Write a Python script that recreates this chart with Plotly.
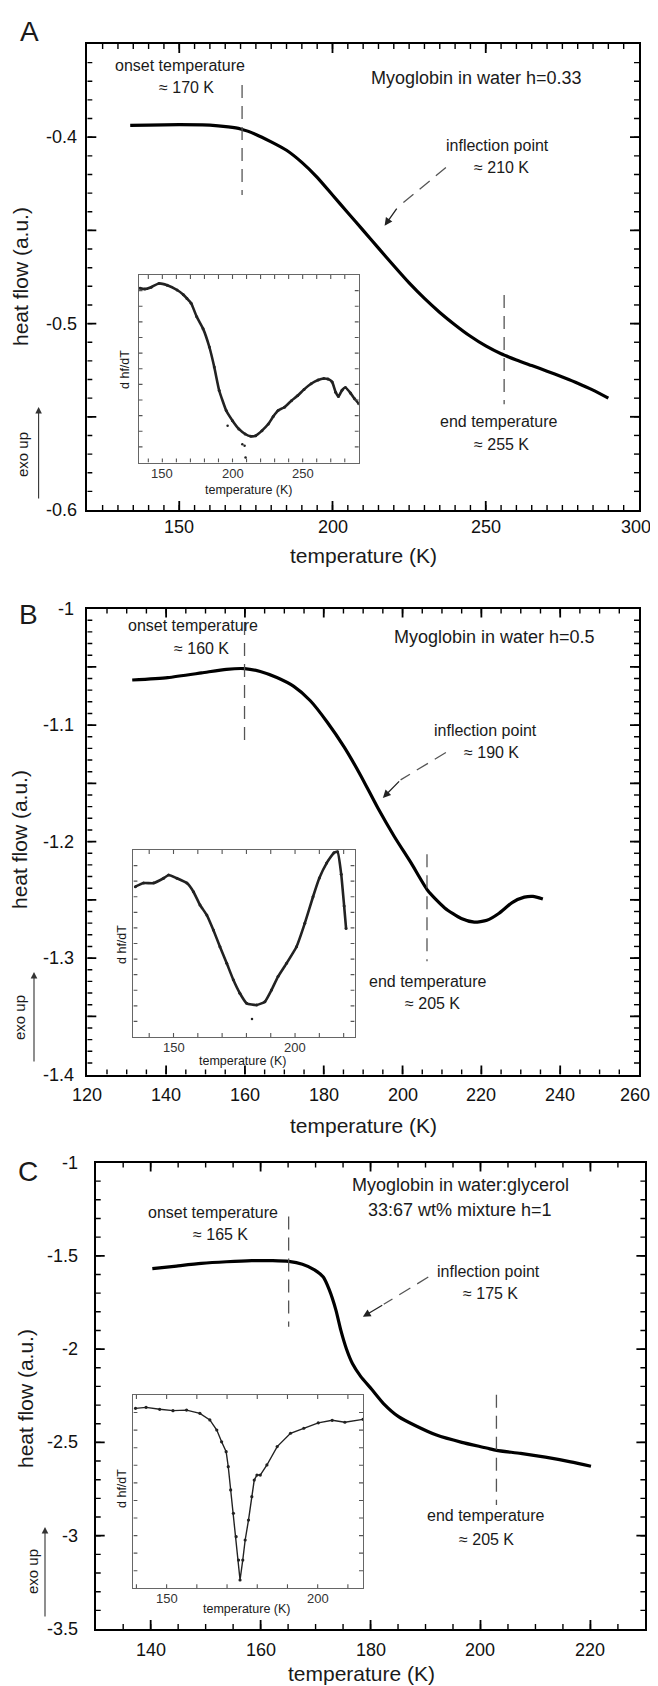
import plotly.graph_objects as go

W, H = 658, 1686
OFF = 8  # the page places the figure 8 px in from the top-left corner
FONT = "Liberation Sans, Arial, Helvetica, sans-serif"

# ---------------- data: main DSC curves ----------------
a_temp = [134, 140, 150, 160, 166, 170, 175, 180, 185, 190, 195, 200, 205, 210, 215,
          220, 225, 230, 235, 240, 245, 250, 255, 260, 265, 270, 275, 280, 285, 290]
a_heat = [-0.3937, -0.3935, -0.3933, -0.3935, -0.3945, -0.3956, -0.3985, -0.4025, -0.4070, -0.4135,
          -0.4215, -0.4310, -0.4405, -0.4500, -0.4595, -0.4690, -0.4782, -0.4865, -0.4940, -0.5007,
          -0.5068, -0.5120, -0.5162, -0.5195, -0.5225, -0.5255, -0.5287, -0.5320, -0.5357, -0.5400]

b_temp = [131.4, 140.4, 149.0, 155.3, 159.9, 163.9, 168.1, 172.4, 176.6, 180.9, 185.2, 189.4, 193.7,
          197.9, 202.2, 206.4, 210.7, 214.9, 218.2, 221.4, 224.5, 227.8, 230.9, 233.1, 235.6]
b_heat = [-1.0613, -1.0592, -1.0552, -1.0521, -1.0515, -1.0540, -1.0592, -1.0668, -1.0791, -1.0975,
          -1.1189, -1.1434, -1.1710, -1.1956, -1.2185, -1.2420, -1.2569, -1.2660, -1.2691, -1.2676,
          -1.2615, -1.2523, -1.2477, -1.2470, -1.2492]

c_temp = [140.3, 144.7, 149.2, 153.8, 158.4, 162.2, 165.1, 167.6, 169.8, 171.4, 172.5, 173.7, 174.6,
          175.6, 176.7, 178.2, 180.2, 182.4, 185.1, 188.2, 192.0, 196.6, 201.1, 202.9, 207.3, 211.8,
          216.4, 220.1]
c_heat = [-1.569, -1.555, -1.541, -1.532, -1.526, -1.526, -1.530, -1.545, -1.575, -1.614, -1.683,
          -1.791, -1.900, -1.998, -2.077, -2.146, -2.215, -2.293, -2.362, -2.411, -2.461, -2.500,
          -2.530, -2.543, -2.559, -2.579, -2.604, -2.628]

# ---------------- data: insets (d hf/dT, arbitrary units 0..1) ----------------
ia_temp = [134, 137.5, 142, 147.5, 153.5, 160.5, 165, 167.5, 170.5, 174.5, 179, 183.5, 187, 190.5,
           195.5, 200, 204.5, 209, 213, 216.5, 221, 225.5, 229, 232.5, 237, 242, 246.5, 251, 256,
           261, 265, 268, 271, 273.5, 275.5, 278, 280.5, 284, 287, 290]
ia_dhf = [0.93, 0.925, 0.935, 0.955, 0.945, 0.92, 0.895, 0.875, 0.85, 0.777, 0.714, 0.616, 0.509,
          0.384, 0.277, 0.223, 0.179, 0.152, 0.14, 0.143, 0.17, 0.205, 0.245, 0.277, 0.295, 0.33,
          0.357, 0.39, 0.42, 0.44, 0.448, 0.445, 0.43, 0.375, 0.352, 0.385, 0.4, 0.371, 0.34, 0.314]
ia_out_temp = [196.5, 207, 208.6, 209.3]
ia_out_dhf = [0.196, 0.098, 0.089, 0.027]

ib_temp = [134.3, 137.7, 141.8, 145.9, 148, 151.4, 155.5, 158.2, 160.9, 163.7, 166.4, 169.1, 171.9,
           174.6, 177.3, 180.1, 184.2, 187.6, 190.3, 193, 196.5, 200.6, 204, 207.4, 210, 213, 216,
           217.5, 219, 220.2, 221]
ib_dhf = [0.804, 0.823, 0.823, 0.849, 0.866, 0.849, 0.823, 0.777, 0.706, 0.652, 0.572, 0.483, 0.394,
          0.306, 0.234, 0.18, 0.171, 0.189, 0.251, 0.323, 0.394, 0.483, 0.608, 0.75, 0.85, 0.93,
          0.985, 0.99, 0.87, 0.7, 0.58]
ib_out_temp = [182.3]
ib_out_dhf = [0.096]

ic_temp = [139.7, 143.2, 147.7, 152.1, 156.6, 161, 164.3, 166.6, 168.2, 169.7, 170.4, 171.2, 172.1,
           173, 173.8, 174.3, 175.2, 176, 177.1, 178.2, 179, 179.9, 181, 183.2, 186.6, 191, 195.4,
           200.2, 204.8, 209, 215]
ic_dhf = [0.931, 0.936, 0.926, 0.919, 0.922, 0.905, 0.871, 0.819, 0.758, 0.707, 0.629, 0.509, 0.388,
          0.267, 0.146, 0.043, 0.146, 0.25, 0.353, 0.474, 0.56, 0.586, 0.586, 0.638, 0.733, 0.802,
          0.828, 0.856, 0.869, 0.859, 0.874]

# ---------------- tick labels ----------------
a_xlabels = [150, 200, 250, 300]
a_ylabels = [-0.6, -0.5, -0.4]
a_ytext = ["-0.6", "-0.5", "-0.4"]
b_xlabels = [120, 140, 160, 180, 200, 220, 240, 260]
b_ylabels = [-1.4, -1.3, -1.2, -1.1, -1.0]
b_ytext = ["-1.4", "-1.3", "-1.2", "-1.1", "-1"]
c_xlabels = [140, 160, 180, 200, 220]
c_ylabels = [-3.5, -3.0, -2.5, -2.0, -1.5, -1.0]
c_ytext = ["-3.5", "-3", "-2.5", "-2", "-1.5", "-1"]
inset_labels = [150, 200, 250]


def steps(lo, hi, step):
    n = int(round((hi - lo) / step))
    return [round(lo + i * step, 6) for i in range(n + 1)]


def px(x):
    return (x - OFF) / W


def py(y):
    return 1 - (y - OFF) / H


# frame geometry: axis ids, pixel box (left, right, top, bottom), data ranges
FRAMES = {
    "A": ("x", "y", (87.3, 639, 44, 510), [120, 300], [-0.6, -0.35]),
    "B": ("x2", "y2", (87.3, 639, 608.6, 1074.6), [120, 260], [-1.4, -1.0]),
    "C": ("x3", "y3", (95.7, 645.4, 1162.5, 1629), [130, 230], [-3.5, -1.0]),
    "iA": ("x4", "y4", (138.5, 358.8, 275, 462.5), [133, 290], [0, 1]),
    "iB": ("x5", "y5", (133.4, 354.6, 850, 1037), [133.5, 224.5], [0, 1]),
    "iC": ("x6", "y6", (133.4, 363, 1395, 1588.3), [139, 215], [0, 1]),
}


def frame_axes(key, color="black", lw=1.6):
    xa, ya, (l, r, t, b), xr, yr = FRAMES[key]
    common = dict(showline=True, linecolor=color, linewidth=lw, mirror=True, ticks="",
                  showticklabels=False, showgrid=False, zeroline=False, fixedrange=True)
    xd = dict(domain=[px(l), px(r)], range=xr, anchor=ya, **common)
    yd = dict(domain=[py(b), py(t)], range=yr, anchor=xa, **common)
    return xd, yd


fig = go.Figure()
curve = dict(color="black", width=3.2, shape="spline", smoothing=0.6)
fig.add_trace(go.Scatter(x=a_temp, y=a_heat, xaxis="x", yaxis="y", mode="lines", line=curve))
fig.add_trace(go.Scatter(x=b_temp, y=b_heat, xaxis="x2", yaxis="y2", mode="lines", line=curve))
fig.add_trace(go.Scatter(x=c_temp, y=c_heat, xaxis="x3", yaxis="y3", mode="lines", line=curve))

ins_line = dict(color="#222", width=2.6, shape="spline", smoothing=0.4)
ins_mark = dict(color="#222", size=3)
fig.add_trace(go.Scatter(x=ia_temp, y=ia_dhf, xaxis="x4", yaxis="y4", mode="lines+markers",
                         line=ins_line, marker=ins_mark))
fig.add_trace(go.Scatter(x=ia_out_temp, y=ia_out_dhf, xaxis="x4", yaxis="y4", mode="markers",
                         marker=dict(color="#222", size=2.5)))
fig.add_trace(go.Scatter(x=ib_temp, y=ib_dhf, xaxis="x5", yaxis="y5", mode="lines+markers",
                         line=ins_line, marker=ins_mark))
fig.add_trace(go.Scatter(x=ib_out_temp, y=ib_out_dhf, xaxis="x5", yaxis="y5", mode="markers",
                         marker=dict(color="#222", size=2.5)))
fig.add_trace(go.Scatter(x=ic_temp, y=ic_dhf, xaxis="x6", yaxis="y6", mode="lines+markers",
                         line=dict(color="#222", width=1.4), marker=dict(color="#222", size=3.2)))

# ---------------- shapes ----------------
shapes = []


def frame_ticks(key, xvals, yvals, length, width, color="black"):
    """Inward ticks on all four sides of a frame; length given in pixels."""
    xa, ya, (l, r, t, b), xr, yr = FRAMES[key]
    dx = length * (xr[1] - xr[0]) / (r - l)      # pixel length in x data units
    dy = length * (yr[1] - yr[0]) / (b - t)      # pixel length in y data units
    ln = dict(color=color, width=width)
    for v in xvals:
        shapes.append(dict(type="line", xref=xa, yref=ya, x0=v, x1=v, y0=yr[0], y1=yr[0] + dy,
                           line=ln))
        shapes.append(dict(type="line", xref=xa, yref=ya, x0=v, x1=v, y0=yr[1], y1=yr[1] - dy,
                           line=ln))
    for v in yvals:
        shapes.append(dict(type="line", xref=xa, yref=ya, y0=v, y1=v, x0=xr[0], x1=xr[0] + dx,
                           line=ln))
        shapes.append(dict(type="line", xref=xa, yref=ya, y0=v, y1=v, x0=xr[1], x1=xr[1] - dx,
                           line=ln))


# main frames: long and short ticks
frame_ticks("A", [150, 200, 250], steps(-0.55, -0.4, 0.05), 9, 1.8)
frame_ticks("A", steps(125, 295, 5), steps(-0.59, -0.36, 0.01), 5, 1.4)
frame_ticks("B", steps(140, 240, 20), steps(-1.35, -1.05, 0.05), 9, 1.8)
frame_ticks("B", steps(125, 255, 5), steps(-1.39, -1.01, 0.01), 5, 1.4)
frame_ticks("C", steps(140, 220, 20), steps(-3.0, -1.5, 0.5), 9, 1.8)
frame_ticks("C", steps(135, 225, 5), steps(-3.4, -1.1, 0.1), 5, 1.4)
# insets
frame_ticks("iA", steps(140, 280, 10), steps(1 / 12, 11 / 12, 1 / 12), 4, 1.1, "#555")
frame_ticks("iB", steps(140, 220, 10), steps(1 / 12, 11 / 12, 1 / 12), 4, 1.1, "#555")
frame_ticks("iC", steps(140, 210, 10), steps(1 / 11, 10 / 11, 1 / 11), 4, 1.1, "#555")

dash = dict(color="#555", width=1.3, dash="13px,8px")


def dline(xr, yr, x0, y0, x1, y1):
    shapes.append(dict(type="line", xref=xr, yref=yr, x0=x0, y0=y0, x1=x1, y1=y1, line=dash))


dline("x", "y", 170.5, -0.372, 170.5, -0.431)
dline("x", "y", 256, -0.4846, 256, -0.5433)
dline("x", "y", 237, -0.4163, 221.3, -0.4375)
dline("x2", "y2", 159.9, -1.0116, 159.9, -1.1128)
dline("x2", "y2", 206.2, -1.2109, 206.2, -1.3028)
dline("x2", "y2", 211, -1.1235, 199.5, -1.147)
dline("x3", "y3", 165.1, -1.289, 165.1, -1.88)
dline("x3", "y3", 202.9, -2.244, 202.9, -2.835)
dline("x3", "y3", 190.5, -1.614, 182.4, -1.76)

# ---------------- annotations ----------------
anns = []


def txt(xr, yr, x, y, s, size=16, angle=0, xanchor="center", yanchor="middle", xshift=0,
        yshift=0, color="#1a1a1a"):
    anns.append(dict(xref=xr, yref=yr, x=x, y=y, text=s, showarrow=False, textangle=angle,
                     font=dict(size=size, color=color, family=FONT),
                     xanchor=xanchor, yanchor=yanchor, xshift=xshift, yshift=yshift))


def arrow(xr, yr, x, y, ax, ay, axref=None, ayref=None, color="#222", width=1.3):
    d = dict(xref=xr, yref=yr, x=x, y=y, ax=ax, ay=ay, text="", showarrow=True, arrowhead=2,
             arrowsize=1.2, arrowwidth=width, arrowcolor=color)
    if axref:
        d["axref"] = axref
        d["ayref"] = ayref
    anns.append(d)


def tick_labels(xa, ya, xvals, yvals, ytexts, xgap, ygap, size=18, color="#111", last_shift=0):
    for i, v in enumerate(xvals):
        sh = last_shift if i == len(xvals) - 1 else 0
        txt(xa, ya + " domain", v, 0, str(v), size, yanchor="top", yshift=-ygap, xshift=sh,
            color=color)
    for v, t in zip(yvals, ytexts):
        txt(xa + " domain", ya, 0, v, t, size, xanchor="right", xshift=-xgap, color=color)


tick_labels("x", "y", a_xlabels, a_ylabels, a_ytext, 8, 5, last_shift=-3)
tick_labels("x2", "y2", b_xlabels, b_ylabels, b_ytext, 11, 8, last_shift=-4)
tick_labels("x3", "y3", c_xlabels, c_ylabels, c_ytext, 16, 9)
tick_labels("x4", "y4", inset_labels, [], [], 0, 1, 13, "#333")
tick_labels("x5", "y5", inset_labels[:2], [], [], 0, 1, 13, "#333")
tick_labels("x6", "y6", inset_labels[:2], [], [], 0, 1, 13, "#333")

# panel letters
txt("paper", "paper", px(29), py(31), "A", 28)
txt("paper", "paper", px(28), py(614), "B", 28)
txt("paper", "paper", px(28), py(1171), "C", 28)

# axis titles
for (xc, yc) in [(363, 555), (363, 1125), (361, 1673)]:
    txt("paper", "paper", px(xc), py(yc), "temperature (K)", 21)
for (xc, yc) in [(20, 277), (20, 840), (25, 1399)]:
    txt("paper", "paper", px(xc), py(yc), "heat flow (a.u.)", 21, -90)

# exo up
for (xa, yh, yt, xt, ytc) in [(38.6, 407, 500, 23, 455), (34, 972, 1063, 20, 1018),
                              (45, 1527, 1618, 32, 1572)]:
    arrow("paper", "paper", px(xa), py(yh), 0, yt - yh, color="#333", width=1.1)
    txt("paper", "paper", px(xt), py(ytc), "exo up", 15, -90)

# panel A
txt("x", "y", 150.4, -0.3615, "onset temperature")
txt("x", "y", 152.4, -0.3733, "≈ 170 K")
txt("x", "y", 246.9, -0.3682, "Myoglobin in water h=0.33", 18)
txt("x", "y", 253.8, -0.4046, "inflection point")
txt("x", "y", 255.1, -0.4165, "≈ 210 K")
txt("x", "y", 254.4, -0.5525, "end temperature")
txt("x", "y", 255.1, -0.5649, "≈ 255 K")
arrow("x", "y", 217, -0.4475, 221.3, -0.4375, "x", "y")

# panel B
txt("x2", "y2", 146.8, -1.0147, "onset temperature")
txt("x2", "y2", 149, -1.0346, "≈ 160 K")
txt("x2", "y2", 223.3, -1.0245, "Myoglobin in water h=0.5", 18)
txt("x2", "y2", 221.1, -1.1045, "inflection point")
txt("x2", "y2", 222.5, -1.1235, "≈ 190 K")
txt("x2", "y2", 206.4, -1.3197, "end temperature")
txt("x2", "y2", 207.5, -1.339, "≈ 205 K")
arrow("x2", "y2", 195, -1.1625, 199.5, -1.147, "x2", "y2")

# panel C
txt("x3", "y3", 151.4, -1.266, "onset temperature")
txt("x3", "y3", 152.7, -1.388, "≈ 165 K")
txt("x3", "y3", 196.3, -1.118, "Myoglobin in water:glycerol", 18)
txt("x3", "y3", 196.2, -1.254, "33:67 wt% mixture h=1", 18)
txt("x3", "y3", 201.5, -1.585, "inflection point")
txt("x3", "y3", 201.9, -1.703, "≈ 175 K")
txt("x3", "y3", 201, -2.894, "end temperature")
txt("x3", "y3", 201.1, -3.018, "≈ 205 K")
arrow("x3", "y3", 178.6, -1.827, 182.4, -1.76, "x3", "y3")

# inset titles
for (xc, yc) in [(249, 490), (243, 1061), (247, 1609)]:
    txt("paper", "paper", px(xc), py(yc), "temperature (K)", 12.5)
for (xc, yc) in [(125, 370), (122, 945), (122, 1489)]:
    txt("paper", "paper", px(xc), py(yc), "d hf/dT", 12.5, -90)

axes = {}
for key, n in (("A", ""), ("B", "2"), ("C", "3")):
    xd, yd = frame_axes(key)
    axes["xaxis" + n], axes["yaxis" + n] = xd, yd
for key, n in (("iA", "4"), ("iB", "5"), ("iC", "6")):
    xd, yd = frame_axes(key, "#666", 1)
    axes["xaxis" + n], axes["yaxis" + n] = xd, yd

fig.update_layout(
    width=W, height=H, margin=dict(l=0, r=0, t=0, b=0),
    paper_bgcolor="white", plot_bgcolor="white", showlegend=False,
    font=dict(family=FONT, color="#111"),
    shapes=shapes,
    annotations=anns,
    **axes,
)

fig.write_html("out.html")
